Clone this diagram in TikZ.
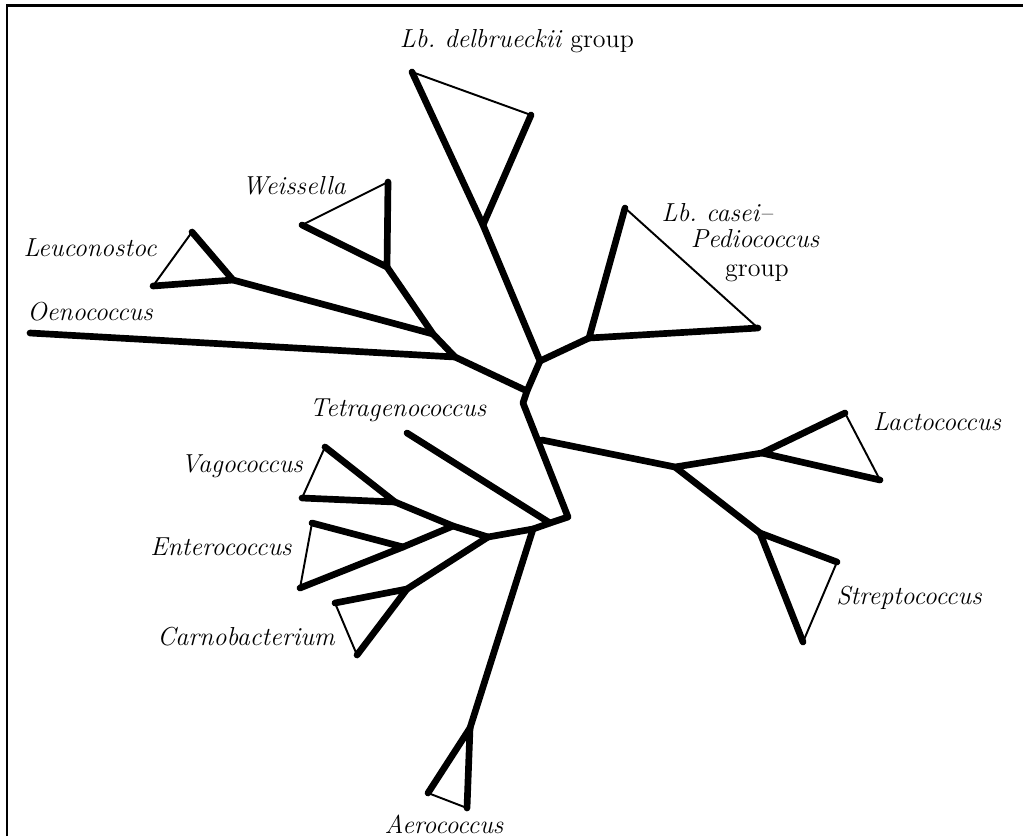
\documentclass[tikz,border=0pt]{standalone}
\usepackage{tikz}
\usetikzlibrary{positioning}
\tikzset{
    branch/.style={line width=3.8pt, line cap=round, line join=round},
    rim/.style={line width=1.1pt, line cap=round},
    taxon/.style={font=\fontsize{14.8}{17}\selectfont\itshape, inner sep=0pt}
}

\begin{document}
\begin{tikzpicture}[x=0.02cm, y=-0.02cm]
    \useasboundingbox (0,0) rectangle (1023,836);
    % frame (top and left only)
    \draw[line width=1.4pt] (7,836) -- (7,5.5) -- (1023,5.5);

    % central vertices
    \coordinate (A) at (540,361);
    \coordinate (B) at (527,391);
    \coordinate (R) at (523,403);
    \coordinate (Q) at (542,440);
    \coordinate (G) at (568,517);
    \coordinate (T) at (550,523);
    \coordinate (K) at (533,529);
    \coordinate (H) at (488,537);
    \coordinate (M) at (453,526);

    % Lb. delbrueckii
    \coordinate (dA) at (483,225);
    \coordinate (dL) at (412,72);
    \coordinate (dR) at (531,115);
    % Lb. casei - Pediococcus
    \coordinate (cC) at (589,338);
    \coordinate (cT) at (625,208);
    \coordinate (cR) at (758,328);
    % Oenococcus, Weissella, Leuconostoc
    \coordinate (J1) at (455,357);
    \coordinate (J2) at (433,334);
    \coordinate (oE) at (30,333);
    \coordinate (wA) at (387,267);
    \coordinate (wT) at (388,182);
    \coordinate (wL) at (302,225);
    \coordinate (lA) at (233,280);
    \coordinate (lT) at (192,232);
    \coordinate (lL) at (153,286);
    % Lactococcus, Streptococcus
    \coordinate (D) at (675,467);
    \coordinate (E) at (762,453);
    \coordinate (lcT) at (845,413);
    \coordinate (lcR) at (880,480);
    \coordinate (F) at (760,533);
    \coordinate (sR) at (837,562);
    \coordinate (sB) at (803,642);
    % Tetragenococcus, Aerococcus
    \coordinate (tE) at (407,433);
    \coordinate (aA) at (470,728);
    \coordinate (aL) at (428,793);
    \coordinate (aB) at (467,808);
    % Vagococcus, Enterococcus, Carnobacterium
    \coordinate (V) at (395,502);
    \coordinate (vT) at (325,447);
    \coordinate (vL) at (302,498);
    \coordinate (eA) at (403,547);
    \coordinate (eT) at (312,523);
    \coordinate (eB) at (300,588);
    \coordinate (Cb) at (407,589);
    \coordinate (cbL) at (335,603);
    \coordinate (cbB) at (357,655);

    % trunk
    \draw[branch] (dL) -- (dA) -- (A) -- (B) -- (R) -- (G) -- (T) -- (K) -- (H);
    \draw[branch] (A) -- (cC);
    \draw[branch] (B) -- (J1) -- (oE);
    \draw[branch] (J1) -- (J2) -- (wA);
    \draw[branch] (J2) -- (lA);
    \draw[branch] (Q) -- (D) -- (E);
    \draw[branch] (D) -- (F);
    \draw[branch] (T) -- (tE);
    \draw[branch] (K) -- (aA);
    \draw[branch] (H) -- (M) -- (V);
    \draw[branch] (M) -- (eA);
    \draw[branch] (H) -- (Cb);

    % collapsed clades
    \draw[branch] (dR) -- (dA);  \draw[rim] (dL) -- (dR);
    \draw[branch] (cT) -- (cC) -- (cR);  \draw[rim] (cT) -- (cR);
    \draw[branch] (wT) -- (wA) -- (wL);  \draw[rim] (wT) -- (wL);
    \draw[branch] (lT) -- (lA) -- (lL);  \draw[rim] (lT) -- (lL);
    \draw[branch] (lcT) -- (E) -- (lcR);  \draw[rim] (lcT) -- (lcR);
    \draw[branch] (sR) -- (F) -- (sB);  \draw[rim] (sR) -- (sB);
    \draw[branch] (aL) -- (aA) -- (aB);  \draw[rim] (aL) -- (aB);
    \draw[branch] (vT) -- (V) -- (vL);  \draw[rim] (vT) -- (vL);
    \draw[branch] (eT) -- (eA) -- (eB);  \draw[rim] (eT) -- (eB);
    \draw[branch] (cbL) -- (Cb) -- (cbB);  \draw[rim] (cbL) -- (cbB);

    % labels
    \node[taxon] (delb) at (517,41) {Lb.\ delbrueckii \upshape group};
    \node[taxon] (caseiA) at (717,213) {Lb.\ casei--};
    \node[taxon] (caseiB) at (755,239) {Pediococcus};
    \node[taxon] (caseiC) at (757,273) {\upshape group};
    \node[taxon] (weis) at (294,186) {Weissella};
    \node[taxon] (leuc) at (90,248) {Leuconostoc};
    \node[taxon] (oeno) at (90,312) {Oenococcus};
    \node[taxon] (tetr) at (398,410) {Tetragenococcus};
    \node[taxon] (vago) at (242,466) {Vagococcus};
    \node[taxon] (ente) at (221,547) {Enterococcus};
    \node[taxon] (carn) at (246,637) {Carnobacterium};
    \node[taxon] (aero) at (444,824) {Aerococcus};
    \node[taxon] (lact) at (937,422) {Lactococcus};
    \node[taxon] (strp) at (909,598) {Streptococcus};
\end{tikzpicture}
\end{document}
